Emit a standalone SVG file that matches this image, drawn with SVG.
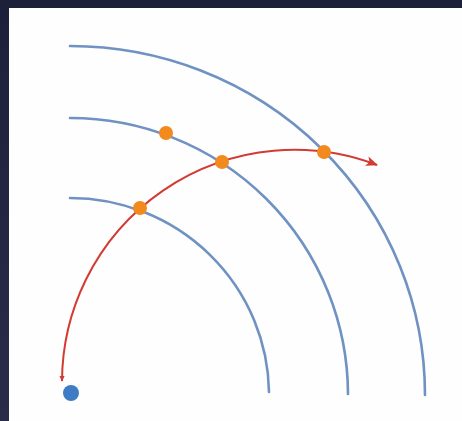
<svg xmlns="http://www.w3.org/2000/svg" width="462" height="421" viewBox="0 0 462 421">
  <defs>
    <linearGradient id="bg" x1="0" y1="0" x2="0" y2="1">
      <stop offset="0" stop-color="#1c2039"/>
      <stop offset="1" stop-color="#2a2d48"/>
    </linearGradient>
    <linearGradient id="fade" gradientUnits="userSpaceOnUse" x1="0" y1="330" x2="0" y2="398">
      <stop offset="0" stop-color="#6f92c2" stop-opacity="1"/>
      <stop offset="1" stop-color="#6f92c2" stop-opacity="0.1"/>
    </linearGradient>
    <marker id="arrow" viewBox="0 0 12 10" refX="11" refY="5" markerWidth="12" markerHeight="10" markerUnits="userSpaceOnUse" orient="auto">
      <path d="M0,0 L12,5 L0,10 L3,5 Z" fill="#d33a32"/>
    </marker>
    <marker id="tail" viewBox="0 0 8 8" refX="6" refY="4" markerWidth="7" markerHeight="7" markerUnits="userSpaceOnUse" orient="auto-start-reverse">
      <path d="M0,1 L7,4 L0,7 Z" fill="#d33a32"/>
    </marker>
    <style>
      .wave { fill: none; stroke: #6f92c2; stroke-width: 2.6; stroke-linecap: round; }
      .ray { fill: none; stroke: #d33a32; stroke-width: 2; }
      .hit { fill: #f28a1e; }
    </style>
  </defs>
  <rect x="0" y="0" width="462" height="421" fill="url(#bg)"/>
  <rect x="9" y="8" width="453" height="413" fill="#fefefe"/>

  <g id="wavefronts">
    <path id="wave1" class="wave" d="M70,198 A199,197 0 0 1 269,392"/>
    <path id="wave2" class="wave" d="M70,118 A278,277 0 0 1 348,394"/>
    <path id="wave3" class="wave" d="M70,46 A355,349 0 0 1 425,395" stroke="url(#fade)"/>
  </g>

  <g id="connectors">
    <path class="ray" d="M62,381 A232.5,232.5 0 0 1 377,165" marker-end="url(#arrow)" marker-start="url(#tail)"/>
  </g>

  <g id="source"><circle cx="71" cy="393" r="8" fill="#3f7cc4"/></g>
  <g id="point1"><circle class="hit" cx="166" cy="133" r="7"/></g>
  <g id="point2"><circle class="hit" cx="222" cy="162" r="7"/></g>
  <g id="point3"><circle class="hit" cx="140" cy="208" r="7"/></g>
  <g id="point4"><circle class="hit" cx="324" cy="152" r="7"/></g>
</svg>
